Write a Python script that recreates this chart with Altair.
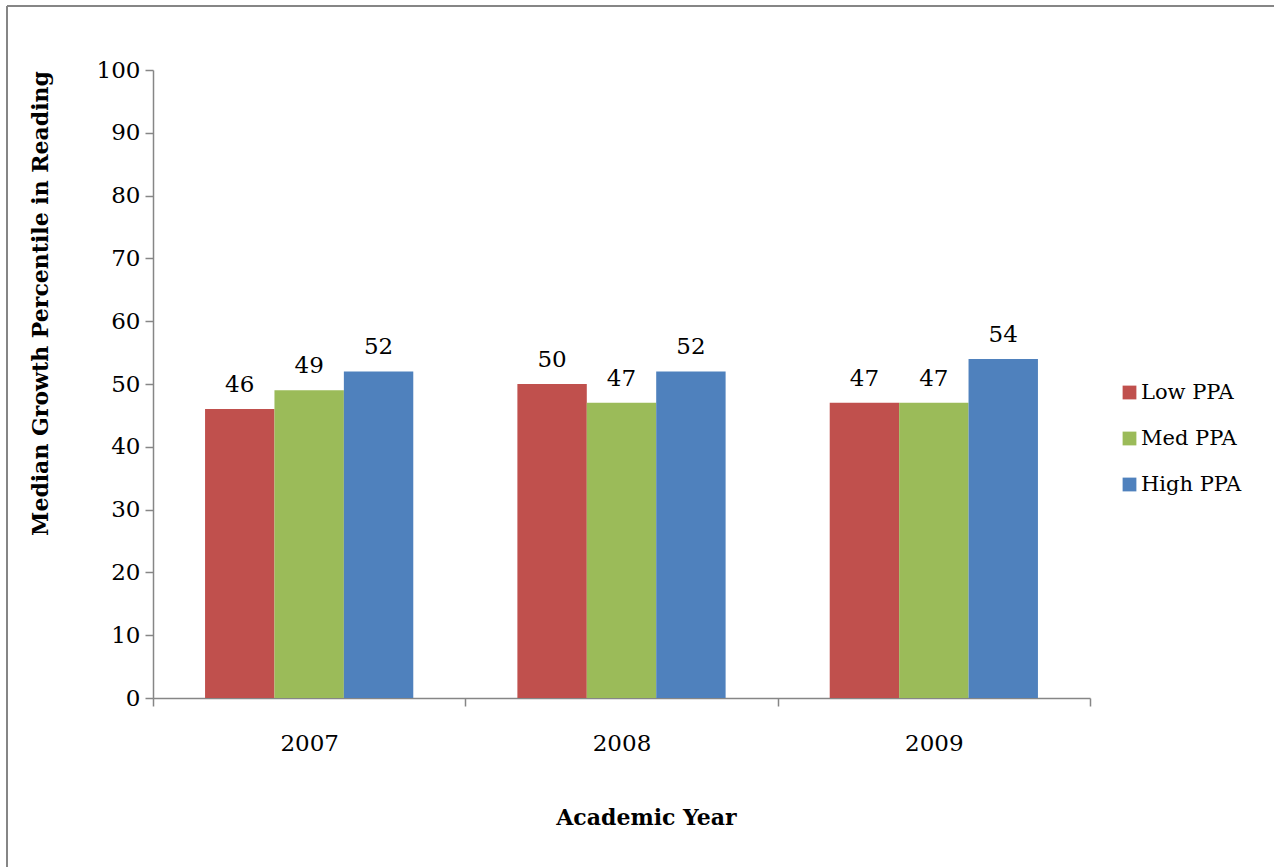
import altair as alt
import pandas as pd

years = ["2007", "2008", "2009"]
groups = ["Low PPA", "Med PPA", "High PPA"]
low_ppa = [46, 50, 47]
med_ppa = [49, 47, 47]
high_ppa = [52, 52, 54]
colors = ["#C0504D", "#9BBB59", "#4F81BD"]
y_ticks = [0, 10, 20, 30, 40, 50, 60, 70, 80, 90, 100]

rows = []
for i, y in enumerate(years):
    for g, vals in zip(groups, [low_ppa, med_ppa, high_ppa]):
        rows.append({"year": y, "group": g, "value": vals[i]})
df = pd.DataFrame(rows)

FONT = "DejaVu Serif"
W, H = 937, 628

x_enc = alt.X("year:N", sort=years,
              scale=alt.Scale(paddingInner=0, paddingOuter=0),
              axis=alt.Axis(title="Academic Year", labelAngle=0, tickBand="extent",
                            titleX=493, titleY=119, titleBaseline="middle",
                            titleAnchor="start", titleAlign="center",
                            labelPadding=26))
y_enc = alt.Y("value:Q", scale=alt.Scale(domain=[0, 100], nice=False),
              axis=alt.Axis(title="Median Growth Percentile in Reading", values=y_ticks,
                            grid=False, titleX=-113, titleY=233, titleAngle=-90,
                            titleBaseline="middle", titleAlign="center",
                            labelPadding=5))
xo = alt.XOffset("group:N", sort=groups,
                 scale=alt.Scale(paddingInner=0, paddingOuter=0.75))

bars = alt.Chart(df).mark_bar().encode(
    x=x_enc, y=y_enc, xOffset=xo,
    color=alt.Color("group:N", sort=groups,
                    scale=alt.Scale(domain=groups, range=colors),
                    legend=alt.Legend(title=None, orient="none", legendX=966, legendY=312,
                                      symbolType="square", symbolSize=190,
                                      symbolStrokeWidth=0, labelFont=FONT,
                                      labelFontSize=21, labelColor="black",
                                      rowPadding=24, labelOffset=1)),
)

labels = alt.Chart(df).mark_text(baseline="bottom", dy=-12, font=FONT, fontSize=23,
                                 color="black").encode(
    x=alt.X("year:N", sort=years), y="value:Q", xOffset=xo, text="value:Q"
)

border_top = alt.Chart(df).mark_rule(color="#868686", strokeWidth=1.5).encode(
    x=alt.value(-146), x2=alt.value(1130), y=alt.value(-64)
)
border_left = alt.Chart(df).mark_rule(color="#868686", strokeWidth=1.5).encode(
    x=alt.value(-146), y=alt.value(-64), y2=alt.value(800)
)

chart = alt.layer(bars, labels, border_top, border_left).properties(
    width=W, height=H,
    autosize=alt.AutoSizeParams(type="none"),
    padding={"left": 153, "top": 70, "right": 184, "bottom": 169},
    background="white",
).configure_view(stroke=None).configure_axis(
    domainColor="#868686", tickColor="#868686", domainWidth=1.5, tickWidth=1.5,
    tickSize=8, labelFont=FONT, labelFontSize=23, labelColor="black",
    titleFont=FONT, titleFontSize=22, titleFontWeight="bold", titleColor="black",
)

chart.save("out.html", embed_options={"renderer": "svg", "actions": False})
